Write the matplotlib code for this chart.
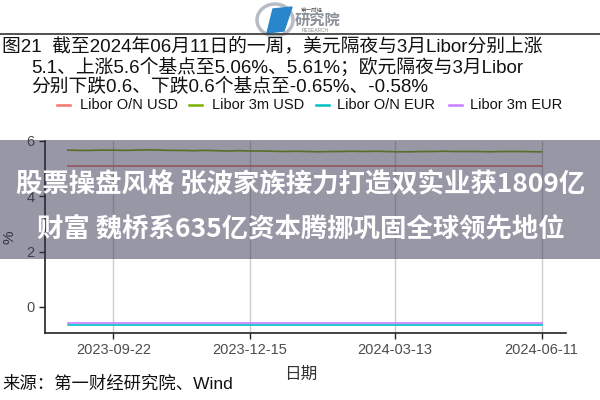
import matplotlib
matplotlib.use("Agg")
import matplotlib.pyplot as plt
from matplotlib.patches import Rectangle, Polygon, Ellipse
import pandas as pd

plt.rcParams['font.family'] = ['Liberation Sans', 'Noto Sans CJK SC', 'DejaVu Sans']

# ---------------- data ----------------
dates = list(pd.date_range('2023-08-25', '2024-06-07', freq='7D')) + [pd.Timestamp('2024-06-11')]
series_names = ['Libor O/N USD', 'Libor 3m USD', 'Libor O/N EUR', 'Libor 3m EUR']
series_colors = ['#F8766D', '#7CAE00', '#00BFC4', '#C77CFF']
on_usd = [5.10] * 43
m3_usd = [5.67, 5.66, 5.66, 5.67, 5.67, 5.66, 5.67, 5.68, 5.67, 5.66,
          5.66, 5.65, 5.66, 5.65, 5.64, 5.65, 5.64, 5.64, 5.63, 5.62,
          5.63, 5.62, 5.61, 5.62, 5.62, 5.63, 5.62, 5.63, 5.62, 5.61,
          5.61, 5.62, 5.62, 5.63, 5.62, 5.62, 5.62, 5.61, 5.62, 5.62,
          5.62, 5.61, 5.61]
on_eur = [-0.64] * 43
m3_eur = [-0.58] * 43
values = [on_usd, m3_usd, on_eur, m3_eur]
xtick_labels = ['2023-09-22', '2023-12-15', '2024-03-13', '2024-06-11']
yticks = [0, 2, 4, 6]

title_lines = ['图21  截至2024年06月11日的一周，美元隔夜与3月Libor分别上涨',
               '5.1、上涨5.6个基点至5.06%、5.61%；欧元隔夜与3月Libor',
               '分别下跌0.6、下跌0.6个基点至-0.65%、-0.58%']
banner_lines = ['股票操盘风格 张波家族接力打造双实业获1809亿',
                '财富 魏桥系635亿资本腾挪巩固全球领先地位']
source_text = '来源：第一财经研究院、Wind'

MIX = ['Liberation Sans', 'Noto Sans CJK SC']

# ---------------- figure ----------------
W, H = 600, 400
fig = plt.figure(figsize=(6, 4), dpi=100)

ax = fig.add_axes([45 / W, (H - 333) / H, (566 - 45) / W, (333 - 141) / H])
for name, col, vals in zip(series_names, series_colors, values):
    ax.plot(dates, vals, color=col, lw=1.2, label=name)

ax.set_xlim(pd.Timestamp('2023-08-11'), pd.Timestamp('2024-06-26'))
ax.set_ylim(-0.94, 6.0)
ax.set_xticks([pd.Timestamp(d) for d in xtick_labels])
ax.set_xticklabels(xtick_labels)
ax.set_yticks(yticks)
ax.tick_params(axis='both', colors='#222222', labelcolor='#4d4d4d', labelsize=10.5, length=4, width=1)
for s in ['top', 'right']:
    ax.spines[s].set_visible(False)
for s in ['left', 'bottom']:
    ax.spines[s].set_linewidth(1.2)
    ax.spines[s].set_color('#222222')
ax.grid(axis='x', color='#cccccc', lw=1)
ax.set_axisbelow(True)
ax.set_ylabel('%', color='#333333', fontsize=11)
ax.yaxis.set_label_coords(-0.055, 0.5)
ax.set_xlabel('日期', color='#333333', fontsize=12, family=['Noto Sans CJK SC'])
ax.xaxis.set_label_coords(0.49, -0.17)

# overlay in pixel coordinates
ov = fig.add_axes([0, 0, 1, 1], zorder=5)
ov.set_xlim(0, W)
ov.set_ylim(H, 0)
ov.axis('off')
ov.patch.set_alpha(0)

# logo
ov.add_patch(Ellipse((275, 20), 36, 32, fill=False, ec='#b8bcc4', lw=2.5))
ov.add_patch(Polygon([[267, 33], [273, 9], [292, 7], [284, 31]], closed=True, color='#2a86cc'))
ov.text(312, 9, '第一财经', fontsize=4, color='#555555', ha='center', va='center', family=['Noto Sans CJK SC'])
ov.text(318, 20, '研究院', fontsize=11, color='#8a8f98', ha='center', va='center', family=['Noto Sans CJK SC'], weight='bold')
ov.text(315, 30, 'RESEARCH', fontsize=3.5, color='#888888', ha='center', va='center')
ov.plot([0, 600], [34, 34], color='#333333', lw=1.2)

# title
ov.text(2, 46, title_lines[0], fontsize=13.5, color='#111111', va='center', ha='left', family=MIX)
ov.text(31, 67, title_lines[1], fontsize=13.5, color='#111111', va='center', ha='left', family=MIX)
ov.text(31, 87, title_lines[2], fontsize=13.5, color='#111111', va='center', ha='left', family=MIX)

# legend
leg_x = [[57, 70, 80], [189, 202, 212], [316, 329, 337], [449, 462, 470]]
for (x0, x1, xt), name, col in zip(leg_x, series_names, series_colors):
    ov.plot([x0, x1], [105, 105], color=col, lw=1.8)
    ov.text(xt, 105, name, fontsize=10.5, color='#111111', va='center', ha='left')

# source
ov.text(2, 384, source_text, fontsize=12.5, color='#111111', va='center', ha='left', family=MIX)

# banner
ov.add_patch(Rectangle((0, 140), 600, 119, color='#33314d', alpha=0.5, lw=0))
ov.text(301, 185, banner_lines[0], fontsize=19, color='white', weight='bold', ha='center', va='center', family=['Noto Sans CJK SC'])
ov.text(301, 229, banner_lines[1], fontsize=19, color='white', weight='bold', ha='center', va='center', family=['Noto Sans CJK SC'])

fig.savefig('out.png', dpi=100)
